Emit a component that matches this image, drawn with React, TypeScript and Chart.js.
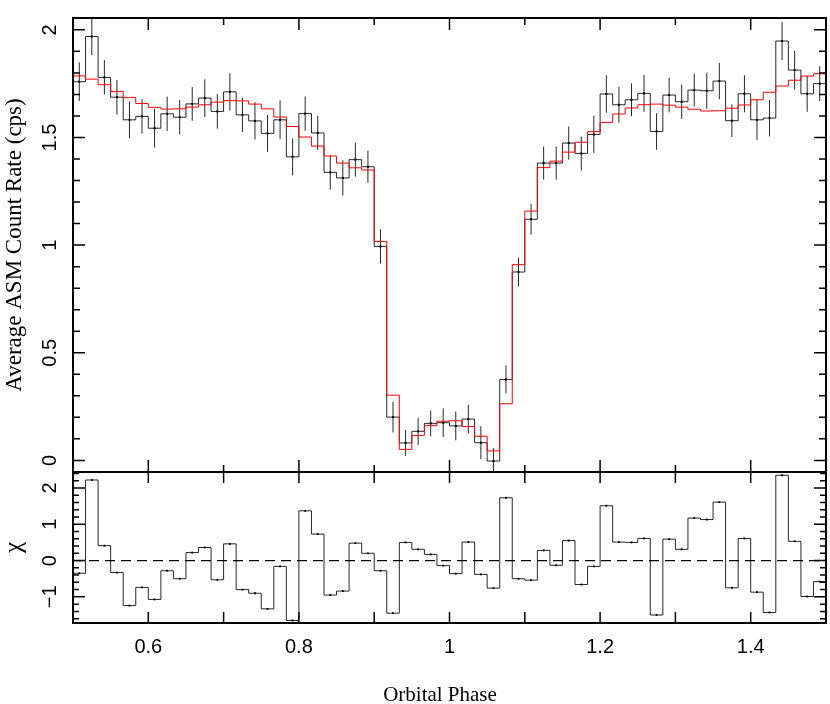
import React, { useEffect, useRef } from 'react';
import { Chart, registerables } from 'chart.js';

Chart.register(...registerables);

// ---- data ----
const phase = [
  0.50833, 0.525, 0.54167, 0.55833, 0.575, 0.59167, 0.60833, 0.625, 0.64167, 0.65833,
  0.675, 0.69167, 0.70833, 0.725, 0.74167, 0.75833, 0.775, 0.79167, 0.80833, 0.825,
  0.84167, 0.85833, 0.875, 0.89167, 0.90833, 0.925, 0.94167, 0.95833, 0.975, 0.99167,
  1.00833, 1.025, 1.04167, 1.05833, 1.075, 1.09167, 1.10833, 1.125, 1.14167, 1.15833,
  1.175, 1.19167, 1.20833, 1.225, 1.24167, 1.25833, 1.275, 1.29167, 1.30833, 1.325,
  1.34167, 1.35833, 1.375, 1.39167, 1.40833, 1.425, 1.44167, 1.45833, 1.475, 1.49167,
];

const rate = [
  1.759, 1.969, 1.779, 1.687, 1.582, 1.598, 1.543, 1.61, 1.594, 1.656,
  1.683, 1.621, 1.712, 1.605, 1.577, 1.519, 1.582, 1.41, 1.611, 1.521,
  1.338, 1.312, 1.397, 1.364, 0.994, 0.201, 0.081, 0.135, 0.172, 0.175,
  0.16, 0.192, 0.082, -0.003, 0.376, 0.875, 1.12, 1.381, 1.381, 1.474,
  1.426, 1.514, 1.702, 1.652, 1.675, 1.705, 1.528, 1.697, 1.666, 1.72,
  1.717, 1.762, 1.578, 1.703, 1.582, 1.59, 1.948, 1.813, 1.703, 1.75,
];

const rateErr = [
  0.09, 0.087, 0.08, 0.08, 0.085, 0.08, 0.09, 0.08, 0.08, 0.078,
  0.087, 0.08, 0.087, 0.08, 0.087, 0.086, 0.09, 0.086, 0.08, 0.08,
  0.08, 0.082, 0.079, 0.074, 0.08, 0.071, 0.06, 0.063, 0.06, 0.067,
  0.067, 0.067, 0.077, 0.06, 0.065, 0.067, 0.071, 0.077, 0.077, 0.077,
  0.079, 0.087, 0.087, 0.084, 0.076, 0.086, 0.085, 0.08, 0.08, 0.077,
  0.084, 0.085, 0.076, 0.086, 0.093, 0.085, 0.089, 0.09, 0.084, 0.081,
];

const model = [
  1.786, 1.771, 1.745, 1.714, 1.686, 1.658, 1.64, 1.632, 1.633, 1.641,
  1.652, 1.664, 1.671, 1.67, 1.655, 1.633, 1.595, 1.551, 1.502, 1.46,
  1.414, 1.381, 1.359, 1.349, 1.017, 0.303, 0.051, 0.116, 0.161, 0.182,
  0.184, 0.157, 0.112, 0.044, 0.263, 0.909, 1.158, 1.36, 1.39, 1.432,
  1.478, 1.527, 1.57, 1.609, 1.637, 1.652, 1.655, 1.65, 1.641, 1.631,
  1.623, 1.624, 1.636, 1.651, 1.675, 1.71, 1.739, 1.766, 1.785, 1.796,
];

const chi = [
  -0.35, 2.22, 0.41, -0.33, -1.24, -0.74, -1.07, -0.28, -0.5, 0.22,
  0.36, -0.53, 0.46, -0.8, -0.9, -1.33, -0.16, -1.65, 1.37, 0.73,
  -0.95, -0.84, 0.48, 0.2, -0.28, -1.45, 0.5, 0.31, 0.17, -0.14,
  -0.36, 0.51, -0.38, -0.76, 1.73, -0.5, -0.54, 0.28, -0.13, 0.55,
  -0.66, -0.16, 1.51, 0.51, 0.5, 0.61, -1.5, 0.59, 0.31, 1.17,
  1.13, 1.61, -0.75, 0.61, -0.87, -1.43, 2.35, 0.53, -0.99, -0.58,
];

const phaseTicks = [0.6, 0.8, 1.0, 1.2, 1.4];
const phaseTickLabels = ['0.6', '0.8', '1', '1.2', '1.4'];
const rateTicks = [0, 0.5, 1, 1.5, 2];
const rateTickLabels = ['0', '0.5', '1', '1.5', '2'];
const chiTicks = [-1, 0, 1, 2];
const chiTickLabels = ['\u22121', '0', '1', '2'];

const PHASE_MIN = 0.5;
const PHASE_MAX = 1.5;
const RATE_MIN = -0.054;
const RATE_MAX = 2.055;
const CHI_MIN = -1.72;
const CHI_MAX = 2.44;

const TICK_FONT = '20px "Liberation Sans", Arial, sans-serif';
const TITLE_FONT = '21px "Liberation Serif", "Times New Roman", serif';
const YTITLE_FONT = '23px "Liberation Serif", "Times New Roman", serif';
const CHI_FONT = '25px "Liberation Serif", "Times New Roman", serif';

// ---- helpers ----
type Pt = { x: number; y: number | null };

function stepSeries(values: number[]): Pt[] {
  const pts: Pt[] = [{ x: PHASE_MIN, y: values[0] }];
  phase.forEach((p, i) => pts.push({ x: p, y: values[i] }));
  pts.push({ x: PHASE_MAX, y: values[values.length - 1] });
  return pts;
}

function errorSeries(): Pt[] {
  const pts: Pt[] = [];
  phase.forEach((p, i) => {
    pts.push({ x: p, y: rate[i] - rateErr[i] });
    pts.push({ x: p, y: rate[i] + rateErr[i] });
    pts.push({ x: p, y: null });
  });
  return pts;
}

function pointSeries(values: number[]): Pt[] {
  return phase.map((p, i) => ({ x: p, y: values[i] }));
}

type TickSpec = { v: number; len: number };

function drawFrame(chart: any, xTicks: TickSpec[], yTicks: TickSpec[]) {
  const { ctx, chartArea: a } = chart;
  const xs = chart.scales.x;
  const ys = chart.scales.y;
  ctx.save();
  ctx.strokeStyle = '#000';
  ctx.lineWidth = 1.5;
  ctx.beginPath();
  for (const t of xTicks) {
    const px = xs.getPixelForValue(t.v);
    ctx.moveTo(px, a.top);
    ctx.lineTo(px, a.top + t.len);
    ctx.moveTo(px, a.bottom);
    ctx.lineTo(px, a.bottom - t.len);
  }
  for (const t of yTicks) {
    const py = ys.getPixelForValue(t.v);
    ctx.moveTo(a.left, py);
    ctx.lineTo(a.left + t.len, py);
    ctx.moveTo(a.right, py);
    ctx.lineTo(a.right - t.len, py);
  }
  ctx.stroke();
  ctx.lineWidth = 2;
  ctx.strokeRect(a.left, a.top, a.right - a.left, a.bottom - a.top);
  ctx.restore();
}

function vText(ctx: CanvasRenderingContext2D, text: string, x: number, y: number, font: string) {
  ctx.save();
  ctx.translate(x, y);
  ctx.rotate(-Math.PI / 2);
  ctx.font = font;
  ctx.fillStyle = '#000';
  ctx.textAlign = 'center';
  ctx.textBaseline = 'alphabetic';
  ctx.fillText(text, 0, 0);
  ctx.restore();
}

const topXTicks: TickSpec[] = [];
for (let k = 6; k <= 14; k++) topXTicks.push({ v: k / 10, len: k % 2 === 0 ? 12 : 7 });
const topYTicks: TickSpec[] = [];
for (let k = 0; k <= 20; k++) topYTicks.push({ v: k / 10, len: k % 5 === 0 ? 12 : 7 });
const botXTicks: TickSpec[] = [];
for (let k = 6; k <= 14; k++) botXTicks.push({ v: k / 10, len: 11 });
const botYTicks: TickSpec[] = [];
for (let k = -8; k <= 12; k++) botYTicks.push({ v: k / 5, len: k % 5 === 0 ? 12 : 6 });

const topPlugin = {
  id: 'topFrame',
  afterDraw(chart: any) {
    drawFrame(chart, topXTicks, topYTicks);
    const { ctx, chartArea: a } = chart;
    const ys = chart.scales.y;
    rateTicks.forEach((v, i) => vText(ctx, rateTickLabels[i], 56, ys.getPixelForValue(v), TICK_FONT));
    vText(ctx, 'Average ASM Count Rate (cps)', 21, (a.top + a.bottom) / 2, YTITLE_FONT);
  },
};

const bottomPlugin = {
  id: 'bottomFrame',
  afterDraw(chart: any) {
    drawFrame(chart, botXTicks, botYTicks);
    const { ctx, chartArea: a } = chart;
    const ys = chart.scales.y;
    const xs = chart.scales.x;
    chiTicks.forEach((v, i) => vText(ctx, chiTickLabels[i], 56, ys.getPixelForValue(v), TICK_FONT));
    vText(ctx, '\u03c7', 21, (a.top + a.bottom) / 2, CHI_FONT);
    ctx.save();
    ctx.fillStyle = '#000';
    ctx.font = TICK_FONT;
    ctx.textAlign = 'center';
    ctx.textBaseline = 'alphabetic';
    phaseTicks.forEach((v, i) => ctx.fillText(phaseTickLabels[i], xs.getPixelForValue(v), a.bottom + 30));
    ctx.font = TITLE_FONT;
    ctx.fillText('Orbital Phase', 440, a.bottom + 78);
    ctx.restore();
  },
};

function baseOptions(yMin: number, yMax: number, padding: any) {
  return {
    responsive: false,
    animation: false as const,
    devicePixelRatio: 1,
    events: [] as any[],
    layout: { padding },
    plugins: { legend: { display: false }, tooltip: { enabled: false } },
    scales: {
      x: { type: 'linear' as const, min: PHASE_MIN, max: PHASE_MAX, display: false },
      y: { type: 'linear' as const, min: yMin, max: yMax, display: false },
    },
  };
}

export default function App() {
  const topRef = useRef<HTMLCanvasElement>(null);
  const botRef = useRef<HTMLCanvasElement>(null);

  useEffect(() => {
    const top = new Chart(topRef.current as HTMLCanvasElement, {
      type: 'line',
      data: {
        datasets: [
          {
            label: 'model',
            data: stepSeries(model) as any,
            stepped: 'middle',
            borderColor: 'rgb(255,0,0)',
            borderWidth: 1,
            pointRadius: 0,
            fill: false,
            order: 0,
          },
          {
            label: 'rate',
            data: stepSeries(rate) as any,
            stepped: 'middle',
            borderColor: 'rgba(0,0,0,0.85)',
            borderWidth: 1,
            pointRadius: 0,
            fill: false,
            order: 1,
          },
          {
            label: 'error',
            data: errorSeries() as any,
            borderColor: 'rgba(0,0,0,0.85)',
            borderWidth: 1,
            pointRadius: 0,
            spanGaps: false,
            fill: false,
            order: 2,
          },
          {
            label: 'points',
            data: pointSeries(rate) as any,
            showLine: false,
            pointStyle: 'rect',
            pointRadius: 1.4,
            pointBorderWidth: 0,
            pointBackgroundColor: '#000',
            order: 3,
          },
        ],
      },
      options: baseOptions(RATE_MIN, RATE_MAX, { left: 73, right: 3, top: 18, bottom: 8 }) as any,
      plugins: [topPlugin],
    });

    const bot = new Chart(botRef.current as HTMLCanvasElement, {
      type: 'line',
      data: {
        datasets: [
          {
            label: 'zero',
            data: [{ x: PHASE_MIN, y: 0 }, { x: PHASE_MAX, y: 0 }] as any,
            borderColor: '#000',
            borderWidth: 1.3,
            borderDash: [10, 6],
            pointRadius: 0,
            fill: false,
            order: 2,
          },
          {
            label: 'chi',
            data: stepSeries(chi) as any,
            stepped: 'middle',
            borderColor: 'rgba(0,0,0,0.85)',
            borderWidth: 1,
            pointRadius: 0,
            fill: false,
            order: 1,
          },
          {
            label: 'chiPoints',
            data: pointSeries(chi) as any,
            showLine: false,
            pointStyle: 'rect',
            pointRadius: 1.3,
            pointBorderWidth: 0,
            pointBackgroundColor: '#000',
            order: 0,
          },
        ],
      },
      options: baseOptions(CHI_MIN, CHI_MAX, { left: 73, right: 3, top: 8, bottom: 81 }) as any,
      plugins: [bottomPlugin],
    });

    return () => {
      top.destroy();
      bot.destroy();
    };
  }, []);

  return (
    <div style={{ position: 'absolute', left: 0, top: 0, width: 830, height: 704, background: '#fff' }}>
      <canvas ref={topRef} width={830} height={480} style={{ position: 'absolute', left: 0, top: 0 }} />
      <canvas ref={botRef} width={830} height={240} style={{ position: 'absolute', left: 0, top: 464 }} />
    </div>
  );
}
